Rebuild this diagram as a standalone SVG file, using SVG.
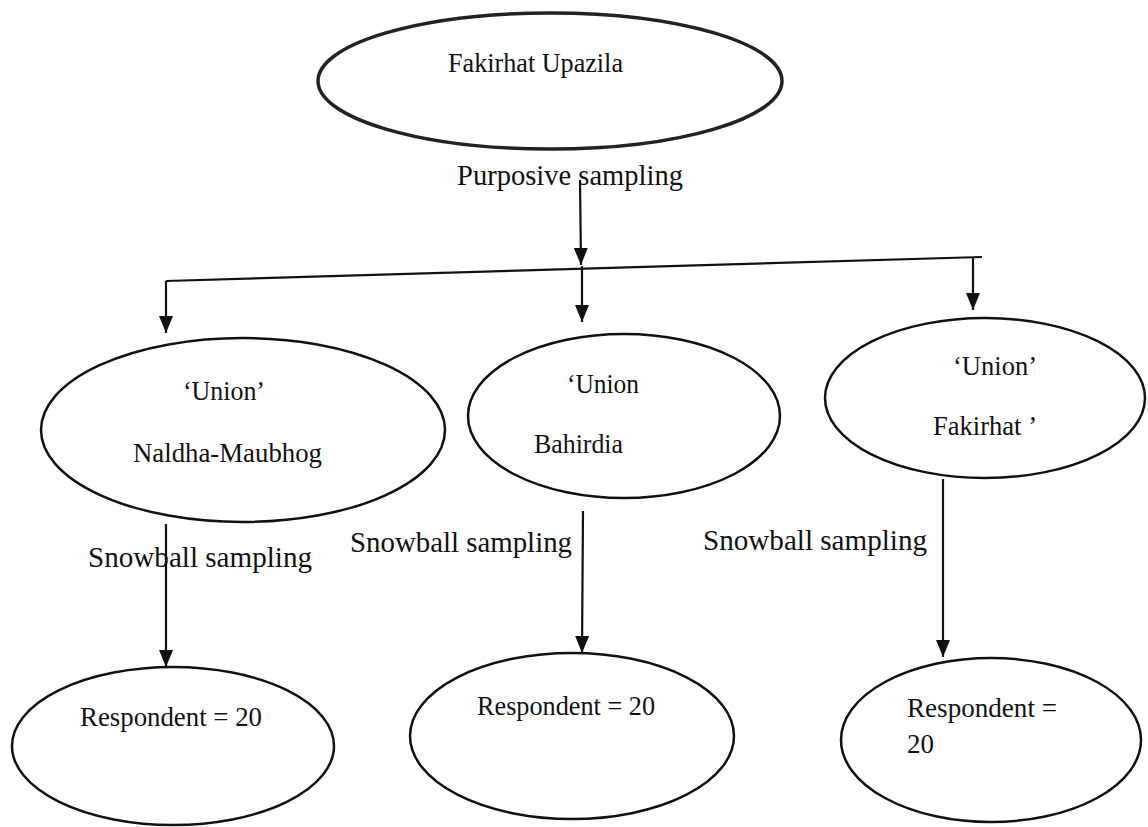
<svg xmlns="http://www.w3.org/2000/svg" width="1148" height="827" viewBox="0 0 1148 827">
<style>
  .node ellipse { fill: none; stroke: #111; stroke-width: 2.5; }
  .node.root ellipse { stroke-width: 3.5; stroke: #222; }
  text { font-family: "Liberation Serif", "Times New Roman", serif; fill: #111; }
  .nt { font-size: 27px; }
  .lbl { font-size: 29px; }
  .conn line { stroke: #111; stroke-width: 2.2; }
</style>
<defs>
  <marker id="arrd" markerUnits="userSpaceOnUse" markerWidth="18" markerHeight="14" refX="17" refY="7" orient="auto" viewBox="0 0 18 14">
    <path d="M0,0 L17,7 L0,14 Z" fill="#111"/>
  </marker>
</defs>
<rect width="1148" height="827" fill="#fff"/>

<g id="n-upazila" class="node root">
  <ellipse cx="550" cy="81" rx="232" ry="68"/>
  <text class="nt" x="448" y="72" textLength="175" lengthAdjust="spacingAndGlyphs">Fakirhat Upazila</text>
</g>

<g id="n-naldha" class="node">
  <ellipse cx="243" cy="430" rx="202" ry="92"/>
  <text class="nt" x="183" y="400" textLength="82" lengthAdjust="spacingAndGlyphs">‘Union’</text>
  <text class="nt" x="133" y="462" textLength="189" lengthAdjust="spacingAndGlyphs">Naldha-Maubhog</text>
</g>

<g id="n-bahirdia" class="node">
  <ellipse cx="624" cy="416" rx="156" ry="82"/>
  <text class="nt" x="567" y="393" textLength="72" lengthAdjust="spacingAndGlyphs">‘Union</text>
  <text class="nt" x="534" y="453" textLength="89" lengthAdjust="spacingAndGlyphs">Bahirdia</text>
</g>

<g id="n-fakirhat" class="node">
  <ellipse cx="985" cy="398" rx="160" ry="80"/>
  <text class="nt" x="953" y="375" textLength="84" lengthAdjust="spacingAndGlyphs">‘Union’</text>
  <text class="nt" x="933" y="435" textLength="104" lengthAdjust="spacingAndGlyphs">Fakirhat ’</text>
</g>

<g id="n-resp1" class="node">
  <ellipse cx="173" cy="746" rx="161" ry="79"/>
  <text class="nt" x="80" y="726" textLength="182" lengthAdjust="spacingAndGlyphs">Respondent = 20</text>
</g>

<g id="n-resp2" class="node">
  <ellipse cx="572" cy="736" rx="162" ry="83"/>
  <text class="nt" x="477" y="715" textLength="178" lengthAdjust="spacingAndGlyphs">Respondent = 20</text>
</g>

<g id="n-resp3" class="node">
  <ellipse cx="991" cy="740" rx="150" ry="82"/>
  <text class="nt" x="907" y="717" textLength="150" lengthAdjust="spacingAndGlyphs">Respondent =</text>
  <text class="nt" x="907" y="753">20</text>
</g>

<g id="connectors" class="conn">
  <line x1="580" y1="180" x2="581" y2="265" marker-end="url(#arrd)"/>
  <line x1="166" y1="281" x2="982" y2="257"/>
  <line x1="166" y1="281" x2="166" y2="333" marker-end="url(#arrd)"/>
  <line x1="582" y1="266" x2="582" y2="322" marker-end="url(#arrd)"/>
  <line x1="973" y1="257" x2="973" y2="310" marker-end="url(#arrd)"/>
  <line x1="166" y1="524" x2="166" y2="667" marker-end="url(#arrd)"/>
  <line x1="583" y1="511" x2="582" y2="653" marker-end="url(#arrd)"/>
  <line x1="943" y1="479" x2="943" y2="657" marker-end="url(#arrd)"/>
</g>

<g id="labels">
  <text class="lbl" x="457" y="185" textLength="226" lengthAdjust="spacingAndGlyphs">Purposive sampling</text>
  <text class="lbl" x="88" y="567" textLength="224" lengthAdjust="spacingAndGlyphs">Snowball sampling</text>
  <text class="lbl" x="350" y="552" textLength="222" lengthAdjust="spacingAndGlyphs">Snowball sampling</text>
  <text class="lbl" x="703" y="550" textLength="224" lengthAdjust="spacingAndGlyphs">Snowball sampling</text>
</g>
</svg>
